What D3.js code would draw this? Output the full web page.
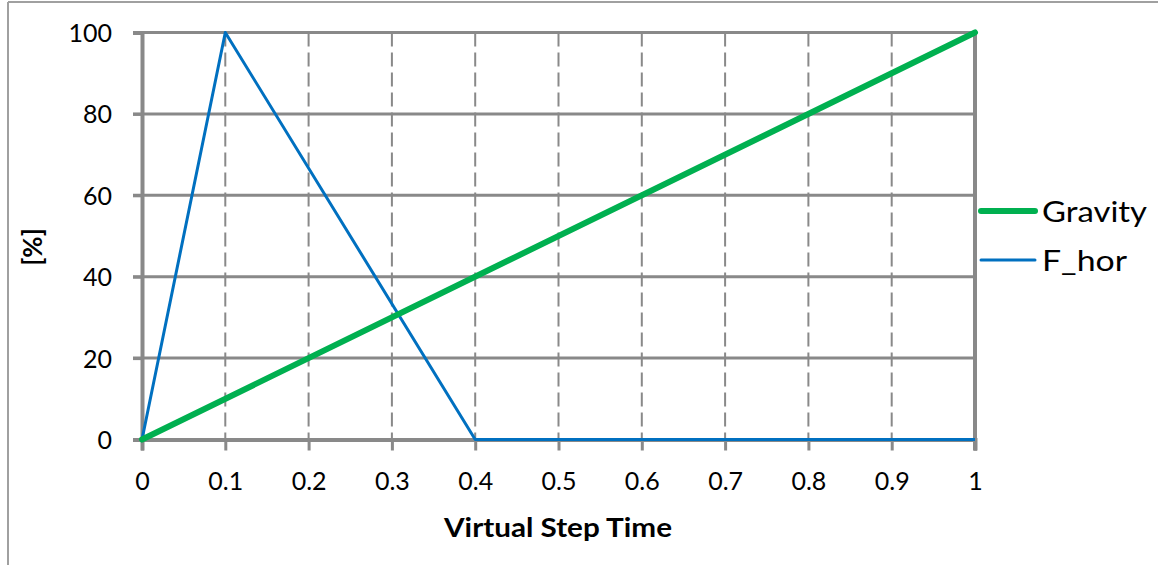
<!DOCTYPE html>
<html><head><meta charset="utf-8">
<script src="https://cdn.jsdelivr.net/npm/d3@7"></script>
<style>body{margin:0;background:#fff;}svg{display:block;}</style>
</head><body>
<svg id="c" width="1158" height="565"></svg>
<script>
const xTicks = [0,0.1,0.2,0.3,0.4,0.5,0.6,0.7,0.8,0.9,1];
const yTicks = [0,20,40,60,80,100];
const gravityX = [0,1];
const gravityY = [0,100];
const fhorX = [0,0.1,0.4,1];
const fhorY = [0,100,0,0];
const seriesNames = ["Gravity","F_hor"];

const FONT = "Lato, 'Open Sans', sans-serif";
const svg = d3.select("#c").attr("font-family",FONT);
const x = d3.scaleLinear().domain([0,1]).range([142,975]);
const y = d3.scaleLinear().domain([0,100]).range([439.5,32.5]);
const grid = "#898989";

// outer frame
svg.append("line").attr("x1",8).attr("x2",8).attr("y1",2).attr("y2",565).attr("stroke","#a0a0a0").attr("stroke-width",2);
svg.append("line").attr("x1",8).attr("x2",1158).attr("y1",2).attr("y2",2).attr("stroke","#a0a0a0").attr("stroke-width",2);

// vertical dashed gridlines
svg.append("g").selectAll("line").data(xTicks.slice(1,-1)).join("line")
  .attr("x1",d=>x(d)).attr("x2",d=>x(d)).attr("y1",y(100)).attr("y2",y(0))
  .attr("stroke",grid).attr("stroke-width",2).attr("stroke-dasharray","14,6");
// horizontal gridlines
svg.append("g").selectAll("line").data(yTicks.slice(1)).join("line")
  .attr("x1",x(0)-9).attr("x2",x(1)).attr("y1",d=>y(d)).attr("y2",d=>y(d))
  .attr("stroke",grid).attr("stroke-width",3);
// right border
svg.append("line").attr("x1",x(1)).attr("x2",x(1)).attr("y1",y(100)-1.5).attr("y2",y(0)+11)
  .attr("stroke",grid).attr("stroke-width",4);

// y axis
const yAxis = d3.axisLeft(y).tickValues(yTicks).tickSize(9).tickFormat(d3.format("d"));
const gy = svg.append("g").attr("transform",`translate(${x(0)},0)`).call(yAxis);
gy.attr("font-family",FONT);
gy.select(".domain").attr("stroke",grid).attr("stroke-width",4);
gy.selectAll(".tick line").attr("stroke",grid).attr("stroke-width",3);
gy.selectAll("text").attr("font-size",25).attr("fill","#000").attr("x",-30).attr("dy",0).attr("y",9);

// x axis
const xAxis = d3.axisBottom(x).tickValues(xTicks).tickSize(11).tickFormat(d=>d3.format("~g")(d));
const gx = svg.append("g").attr("transform",`translate(0,${y(0)})`).call(xAxis);
gx.attr("font-family",FONT);
gx.select(".domain").attr("stroke",grid).attr("stroke-width",4);
gx.selectAll(".tick line").attr("stroke",grid).attr("stroke-width",3);
gx.selectAll("text").attr("font-size",25).attr("fill","#000").attr("dy",0).attr("y",50.5);

// lines
const line = d3.line().x(d=>x(d[0])).y(d=>y(d[1]));
const gData = gravityX.map((v,i)=>[v,gravityY[i]]);
const fData = fhorX.map((v,i)=>[v,fhorY[i]]);
svg.append("path").datum(fData).attr("d",line).attr("fill","none").attr("stroke","#0070C0").attr("stroke-width",3).attr("stroke-linejoin","round");
svg.append("path").datum(gData).attr("d",line).attr("fill","none").attr("stroke","#00B050").attr("stroke-width",6).attr("stroke-linecap","round");

// axis titles
svg.append("text").attr("x",444).attr("y",537).attr("font-size",26).attr("font-weight","bold")
  .attr("textLength",228).attr("lengthAdjust","spacingAndGlyphs").text("Virtual Step Time");
svg.append("text").attr("transform","translate(42,247) rotate(-90)").attr("text-anchor","middle").attr("font-size",26).attr("font-weight","bold").text("[%]");

// legend
const leg = [{n:seriesNames[0],c:"#00B050",w:6,yy:211,len:105},{n:seriesNames[1],c:"#0070C0",w:3,yy:260,len:85}];
const lg = svg.append("g");
leg.forEach(l=>{
  lg.append("line").attr("x1",981).attr("x2",1035).attr("y1",l.yy).attr("y2",l.yy).attr("stroke",l.c).attr("stroke-width",l.w).attr("stroke-linecap","round");
  lg.append("text").attr("x",1042).attr("y",l.yy+11).attr("font-size",28)
    .attr("textLength",l.len).attr("lengthAdjust","spacingAndGlyphs").text(l.n);
});
</script>
</body></html>
